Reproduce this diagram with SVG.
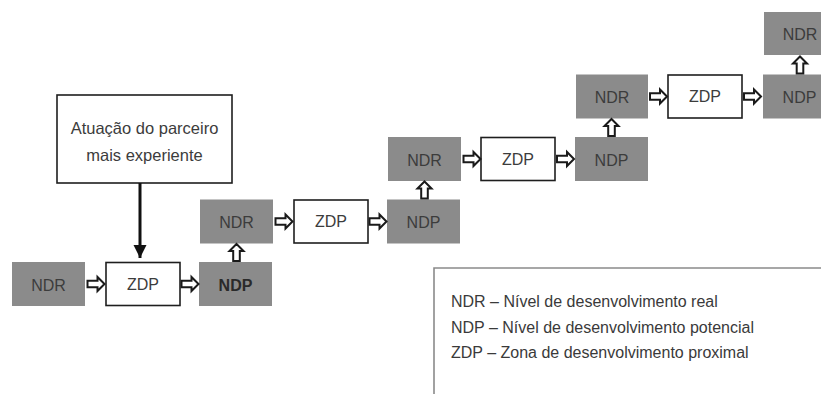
<svg xmlns="http://www.w3.org/2000/svg" width="821" height="394" viewBox="0 0 821 394">
<style>
.g{fill:#8b8b8b}
.w{fill:#fff;stroke:#1e1e1e;stroke-width:1.6}
.t{font-family:"Liberation Sans",Arial,sans-serif;font-size:16px;fill:#3c3c3c;text-anchor:middle;dominant-baseline:central}
.ta{font-size:16.5px}
.tb{font-weight:bold;fill:#2a2a2a}
.lt{font-family:"Liberation Sans",Arial,sans-serif;font-size:16px;fill:#3a3a3a}
.ha{fill:#fff;stroke:#1a1a1a;stroke-width:2;stroke-linejoin:miter}
</style>
<defs>
<path id="harr" d="M0,-3.3 H10 V-7 L17,0 L10,7 V3.3 H0 Z"/>
<marker id="tri" viewBox="0 0 10 10" refX="10" refY="5" markerWidth="4.5" markerHeight="4.5" markerUnits="strokeWidth" orient="auto">
<path d="M0,0 L10,5 L0,10 Z" fill="#111"/>
</marker>
</defs>
<rect width="821" height="394" fill="#fff"/>

<g id="parceiro">
<rect x="57" y="95" width="175" height="88" fill="#fff" stroke="#1e1e1e" stroke-width="1.6"/>
<text class="t ta" x="144.5" y="128">Atuação do parceiro</text>
<text class="t ta" x="144.5" y="155">mais experiente</text>
</g>

<g id="ndr1"><rect class="g" x="12" y="262" width="73" height="44"/><text class="t" x="48.5" y="285">NDR</text></g>
<g id="zdp1"><rect class="w" x="106" y="262.5" width="74" height="43"/><text class="t" x="143" y="284">ZDP</text></g>
<g id="ndp1"><rect class="g" x="199" y="262" width="73" height="44"/><text class="t tb" x="235.5" y="285">NDP</text></g>

<g id="ndr2"><rect class="g" x="200" y="199.5" width="73" height="44"/><text class="t" x="236.5" y="222.5">NDR</text></g>
<g id="zdp2"><rect class="w" x="294" y="200" width="74" height="43"/><text class="t" x="331" y="221.5">ZDP</text></g>
<g id="ndp2"><rect class="g" x="387" y="199.5" width="73" height="44"/><text class="t" x="423.5" y="222.5">NDP</text></g>

<g id="ndr3"><rect class="g" x="388" y="137" width="73" height="44"/><text class="t" x="424.5" y="160">NDR</text></g>
<g id="zdp3"><rect class="w" x="481" y="137.5" width="74" height="43"/><text class="t" x="518" y="159">ZDP</text></g>
<g id="ndp3"><rect class="g" x="575" y="137" width="73" height="44"/><text class="t" x="611.5" y="160">NDP</text></g>

<g id="ndr4"><rect class="g" x="576" y="74.5" width="72" height="44"/><text class="t" x="612" y="97.5">NDR</text></g>
<g id="zdp4"><rect class="w" x="668" y="75" width="74" height="43"/><text class="t" x="705" y="96.5">ZDP</text></g>
<g id="ndp4"><rect class="g" x="763" y="74.5" width="73" height="44"/><text class="t" x="799.5" y="97.5">NDP</text></g>

<g id="ndr5"><rect class="g" x="764" y="12" width="72" height="43"/><text class="t" x="800" y="34.5">NDR</text></g>

<g id="legenda">
<path d="M434,394 V268 H821" fill="none" stroke="#8a8a8a" stroke-width="1.6"/>
<text class="lt" x="451" y="307">NDR – Nível de desenvolvimento real</text>
<text class="lt" x="451" y="333">NDP – Nível de desenvolvimento potencial</text>
<text class="lt" x="451" y="358">ZDP – Zona de desenvolvimento proximal</text>
</g>

<g id="connectors">
<line x1="140" y1="183" x2="140" y2="258" stroke="#111" stroke-width="3" marker-end="url(#tri)"/>
<use href="#harr" class="ha" transform="translate(87.5,284)"/>
<use href="#harr" class="ha" transform="translate(181.5,284)"/>
<use href="#harr" class="ha" transform="translate(275.5,221.5)"/>
<use href="#harr" class="ha" transform="translate(369.5,221.5)"/>
<use href="#harr" class="ha" transform="translate(463.5,159)"/>
<use href="#harr" class="ha" transform="translate(557,159)"/>
<use href="#harr" class="ha" transform="translate(650,96.5)"/>
<use href="#harr" class="ha" transform="translate(744,96.5)"/>
<use href="#harr" class="ha" transform="translate(236.5,261) rotate(-90)"/>
<use href="#harr" class="ha" transform="translate(424.5,198.5) rotate(-90)"/>
<use href="#harr" class="ha" transform="translate(611.5,136) rotate(-90)"/>
<use href="#harr" class="ha" transform="translate(800,73.5) rotate(-90)"/>
</g>
</svg>
